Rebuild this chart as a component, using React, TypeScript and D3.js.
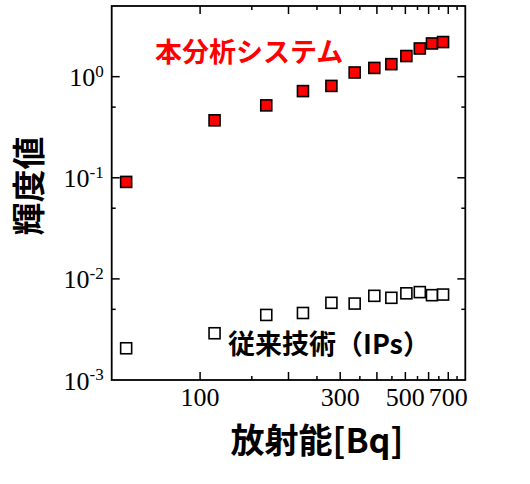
import { scaleLog } from "d3";

// activity [Bq] and luminance for both methods
const activity = [56, 112, 168, 224, 280, 336, 392, 448, 504, 560, 616, 672];
const thisSystem = [0.091, 0.37, 0.52, 0.72, 0.81, 1.1, 1.22, 1.33, 1.6, 1.9, 2.13, 2.2];
const ipsMethod = [0.00206, 0.0029, 0.0044, 0.0046, 0.0058, 0.0057, 0.0068, 0.0065, 0.0072, 0.0074, 0.0069, 0.007];

const xLabels = [100, 300, 500, 700];
const yExponents = [0, -1, -2, -3];

const width = 530;
const height = 484;
const marginLeft = 111.7;
const marginRight = 64.7;
const marginTop = 6;
const marginBottom = 104;

const serif = "'Liberation Serif', 'Times New Roman', serif";
const cjk = "'Noto Sans CJK JP', 'Noto Sans', sans-serif";

export default function App() {
  const x = scaleLog([50, 800], [marginLeft, width - marginRight]);
  const y = scaleLog([1e-3, 5], [height - marginBottom, marginTop]);

  const x0 = marginLeft;
  const x1 = width - marginRight;
  const y0 = height - marginBottom;
  const y1 = marginTop;

  const xMajor = [100, 200, 300, 400, 500, 600, 700];
  const xMinor = [150, 250, 350, 450, 550, 650, 750];
  const yMajor = yExponents.map((e) => Math.pow(10, e)).filter((v) => v > 1e-3);
  const yMinor = [5e-3, 5e-2, 5e-1];

  const size = 11;

  return (
    <svg
      width={width}
      height={height}
      style={{ position: "absolute", left: 0, top: 0, background: "#fff" }}
    >
      {/* ticks, inward on all sides */}
      <g stroke="#000" strokeWidth={1.5}>
        {xMajor.map((v) => (
          <g key={"xm" + v}>
            <line x1={x(v)} x2={x(v)} y1={y0} y2={y0 - 8} />
            <line x1={x(v)} x2={x(v)} y1={y1} y2={y1 + 8} />
          </g>
        ))}
        {xMinor.map((v) => (
          <g key={"xn" + v}>
            <line x1={x(v)} x2={x(v)} y1={y0} y2={y0 - 4} />
            <line x1={x(v)} x2={x(v)} y1={y1} y2={y1 + 4} />
          </g>
        ))}
        {yMajor.map((v) => (
          <g key={"ym" + v}>
            <line x1={x0} x2={x0 + 8} y1={y(v)} y2={y(v)} />
            <line x1={x1} x2={x1 - 8} y1={y(v)} y2={y(v)} />
          </g>
        ))}
        {yMinor.map((v) => (
          <g key={"yn" + v}>
            <line x1={x0} x2={x0 + 4} y1={y(v)} y2={y(v)} />
            <line x1={x1} x2={x1 - 4} y1={y(v)} y2={y(v)} />
          </g>
        ))}
      </g>
      <rect
        x={x0}
        y={y1}
        width={x1 - x0}
        height={y0 - y1}
        fill="none"
        stroke="#000"
        strokeWidth={1.8}
      />

      {/* tick labels */}
      <g fontFamily={serif} fontSize={26} fill="#000">
        {xLabels.map((v) => (
          <text key={"xl" + v} x={x(v)} y={y0 + 26} textAnchor="middle">
            {v}
          </text>
        ))}
        {yExponents.map((e) => (
          <text key={"yl" + e} x={x0 - 8} y={y(Math.pow(10, e)) + 9.5} textAnchor="end">
            10
            <tspan fontSize={17} dy={-9.5}>
              {e}
            </tspan>
          </text>
        ))}
      </g>

      {/* series */}
      {activity.map((a, i) => (
        <rect
          key={"r" + i}
          x={x(a) - size / 2}
          y={y(thisSystem[i]) - size / 2}
          width={size}
          height={size}
          fill="#ff0000"
          stroke="#000"
          strokeWidth={1.6}
        />
      ))}
      {activity.map((a, i) => (
        <rect
          key={"o" + i}
          x={x(a) - size / 2}
          y={y(ipsMethod[i]) - size / 2}
          width={size}
          height={size}
          fill="#fff"
          stroke="#000"
          strokeWidth={1.6}
        />
      ))}

      {/* annotations */}
      <text x={155} y={62} fontFamily={cjk} fontWeight="bold" fontSize={27} fill="#ff0000">
        本分析システム
      </text>
      <text x={228} y={354} fontFamily={cjk} fontWeight="bold" fontSize={27} fill="#000">
        従来技術（IPs）
      </text>

      {/* axis titles */}
      <text
        x={317}
        y={453}
        textAnchor="middle"
        fontFamily={cjk}
        fontWeight="bold"
        fontSize={34}
        fill="#000"
      >
        放射能[Bq]
      </text>
      <text
        transform={`translate(41,${186}) rotate(-90)`}
        textAnchor="middle"
        fontFamily={cjk}
        fontWeight="bold"
        fontSize={33}
        fill="#000"
      >
        輝度値
      </text>
    </svg>
  );
}
